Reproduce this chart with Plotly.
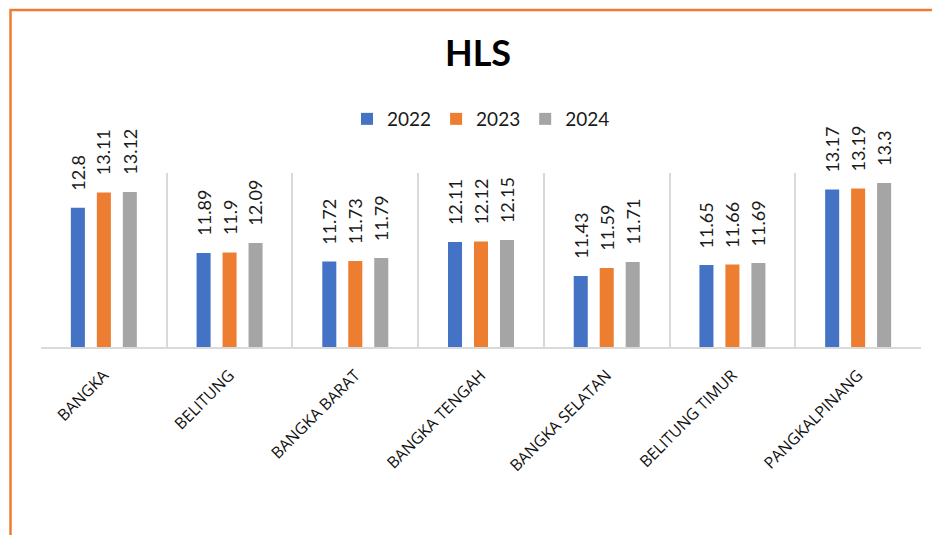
import plotly.graph_objects as go

categories = ["BANGKA", "BELITUNG", "BANGKA BARAT", "BANGKA TENGAH",
              "BANGKA SELATAN", "BELITUNG TIMUR", "PANGKALPINANG"]
years = ["2022", "2023", "2024"]
hls_2022 = [12.8, 11.89, 11.72, 12.11, 11.43, 11.65, 13.17]
hls_2023 = [13.11, 11.9, 11.73, 12.12, 11.59, 11.66, 13.19]
hls_2024 = [13.12, 12.09, 11.79, 12.15, 11.71, 11.69, 13.3]
series = [hls_2022, hls_2023, hls_2024]
colors = ["#4472C4", "#ED7D31", "#A5A5A5"]

W, H = 940, 535
ML, MR, MT, MB = 33, 27, 165, 196
FONT = "Lato, 'Open Sans', sans-serif"
BARGAP = 0.38
BARGROUPGAP = 0.46

fig = go.Figure()
for name, vals, col in zip(years, series, colors):
    fig.add_trace(go.Bar(x=categories, y=vals, name=name, marker_color=col,
                         marker_line_width=0))

# data labels (rotated, above bars)
slot = (1 - BARGAP) / len(series)
annotations = []
for k, vals in enumerate(series):
    for i, v in enumerate(vals):
        annotations.append(dict(
            x=i + (k - (len(series) - 1) / 2) * slot, y=v, xref="x", yref="y",
            text=str(v), textangle=-90, showarrow=False,
            xanchor="center", yanchor="bottom", yshift=15,
            font=dict(family=FONT, size=18, color="#1a1a1a")))

pw = W - ML - MR
ph = H - MT - MB
# orange outer border
shapes = [dict(type="rect", xref="paper", yref="paper",
               x0=(2.5 - ML) / pw, x1=(W + 20 - ML) / pw,
               y0=-(H + 20 - (H - MB)) / ph, y1=((H - MB) - 2) / ph,
               line=dict(color="#ED7D31", width=2.5), fillcolor="rgba(0,0,0,0)",
               layer="below")]

fig.update_layout(
    width=W, height=H,
    margin=dict(l=ML, r=MR, t=MT, b=MB),
    paper_bgcolor="white", plot_bgcolor="white",
    barmode="group", bargap=BARGAP, bargroupgap=BARGROUPGAP,
    title=dict(text="<b>HLS</b>", x=470 / W, xanchor="center", y=1 - 45 / H,
               yanchor="middle", yref="container",
               font=dict(family=FONT, size=36, color="#000000")),
    legend=dict(orientation="h", x=0.5, xanchor="center",
                y=((H - MB) - 111) / ph, yanchor="middle",
                font=dict(family=FONT, size=19, color="#1a1a1a"),
                itemwidth=30, traceorder="normal"),
    xaxis=dict(type="category", tickson="boundaries", showgrid=True,
               gridcolor="#D9D9D9", gridwidth=1.5, showline=True,
               linecolor="#D9D9D9", linewidth=1.5, ticks="",
               tickangle=-45, ticklabelstandoff=11,
               tickfont=dict(family="'Open Sans', Lato, sans-serif", size=16,
                             color="#111111")),
    yaxis=dict(range=[10, 13.5], showgrid=False, showticklabels=False,
               zeroline=False, showline=False),
    annotations=annotations,
    shapes=shapes,
)

fig.write_html("out.html")
